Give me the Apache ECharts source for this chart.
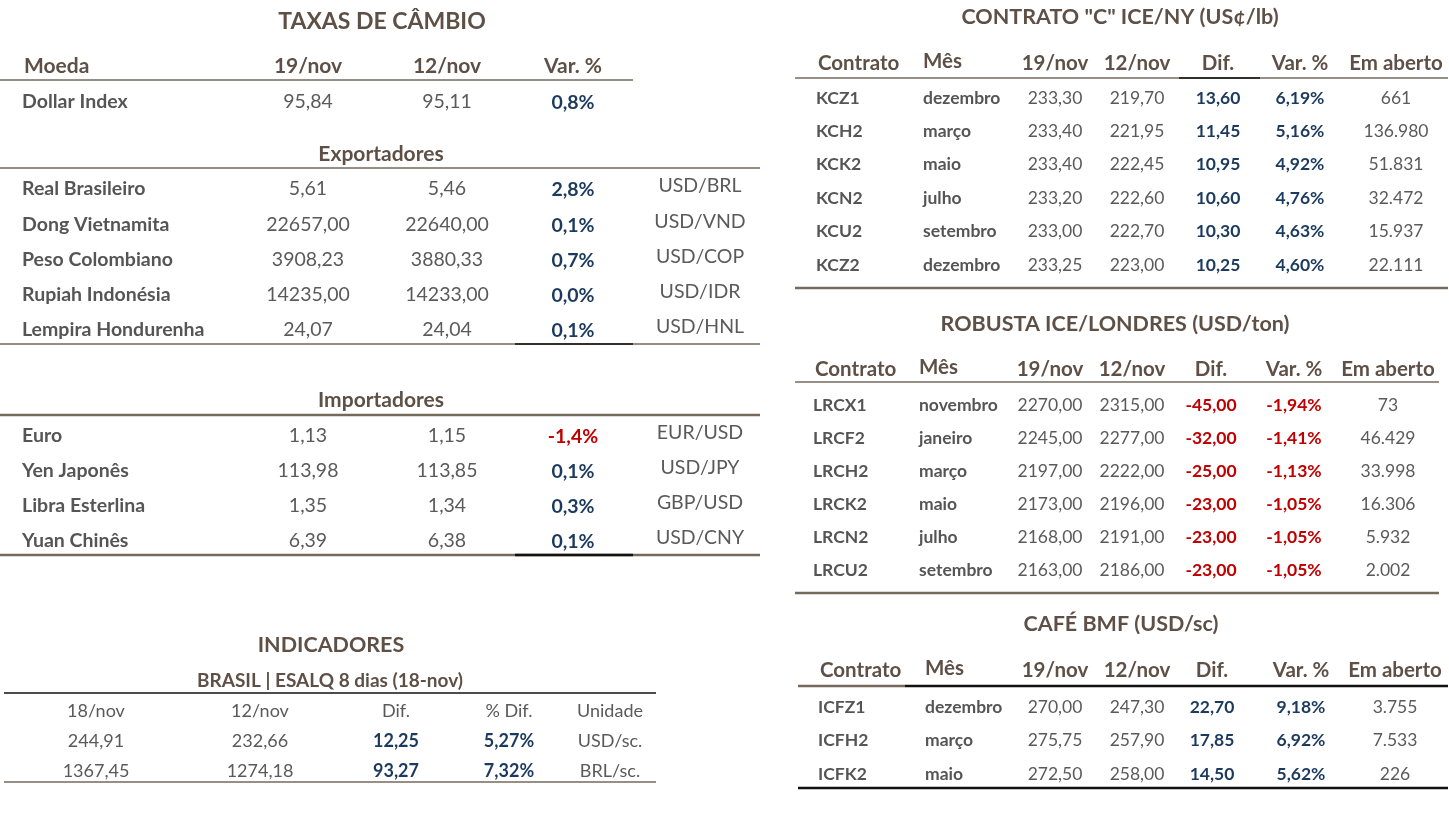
<!DOCTYPE html>
<html>
<head>
<meta charset="utf-8">
<script src="https://cdn.jsdelivr.net/npm/echarts@6/dist/echarts.min.js"></script>
<style>
  html, body { margin: 0; padding: 0; background: #fff; }
  #board { width: 1449px; height: 814px; }
</style>
</head>
<body>
<div id="board"></div>
<script>
// ---- data: taxas de cambio ----
const fxHeaders = ['Moeda', '19/nov', '12/nov', 'Var. %'];
const dollarName = ['Dollar Index'];
const dollar19 = ['95,84'];
const dollar12 = ['95,11'];
const dollarVar = ['0,8%'];

const expNames = ['Real Brasileiro', 'Dong Vietnamita', 'Peso Colombiano', 'Rupiah Indonésia', 'Lempira Hondurenha'];
const exp19 = ['5,61', '22657,00', '3908,23', '14235,00', '24,07'];
const exp12 = ['5,46', '22640,00', '3880,33', '14233,00', '24,04'];
const expVar = ['2,8%', '0,1%', '0,7%', '0,0%', '0,1%'];
const expPair = ['USD/BRL', 'USD/VND', 'USD/COP', 'USD/IDR', 'USD/HNL'];

const impNames = ['Euro', 'Yen Japonês', 'Libra Esterlina', 'Yuan Chinês'];
const imp19 = ['1,13', '113,98', '1,35', '6,39'];
const imp12 = ['1,15', '113,85', '1,34', '6,38'];
const impVar = ['-1,4%', '0,1%', '0,3%', '0,1%'];
const impPair = ['EUR/USD', 'USD/JPY', 'GBP/USD', 'USD/CNY'];

// ---- data: indicadores ----
const indHeaders = ['18/nov', '12/nov', 'Dif.', '% Dif.', 'Unidade'];
const ind18 = ['244,91', '1367,45'];
const ind12 = ['232,66', '1274,18'];
const indDif = ['12,25', '93,27'];
const indPct = ['5,27%', '7,32%'];
const indUnit = ['USD/sc.', 'BRL/sc.'];

// ---- data: futuros ----
const futHeaders = ['Contrato', 'Mês', '19/nov', '12/nov', 'Dif.', 'Var. %', 'Em aberto'];

const kcCodes = ['KCZ1', 'KCH2', 'KCK2', 'KCN2', 'KCU2', 'KCZ2'];
const kcMonths = ['dezembro', 'março', 'maio', 'julho', 'setembro', 'dezembro'];
const kc19 = ['233,30', '233,40', '233,40', '233,20', '233,00', '233,25'];
const kc12 = ['219,70', '221,95', '222,45', '222,60', '222,70', '223,00'];
const kcDif = ['13,60', '11,45', '10,95', '10,60', '10,30', '10,25'];
const kcVar = ['6,19%', '5,16%', '4,92%', '4,76%', '4,63%', '4,60%'];
const kcOpen = ['661', '136.980', '51.831', '32.472', '15.937', '22.111'];

const lrCodes = ['LRCX1', 'LRCF2', 'LRCH2', 'LRCK2', 'LRCN2', 'LRCU2'];
const lrMonths = ['novembro', 'janeiro', 'março', 'maio', 'julho', 'setembro'];
const lr19 = ['2270,00', '2245,00', '2197,00', '2173,00', '2168,00', '2163,00'];
const lr12 = ['2315,00', '2277,00', '2222,00', '2196,00', '2191,00', '2186,00'];
const lrDif = ['-45,00', '-32,00', '-25,00', '-23,00', '-23,00', '-23,00'];
const lrVar = ['-1,94%', '-1,41%', '-1,13%', '-1,05%', '-1,05%', '-1,05%'];
const lrOpen = ['73', '46.429', '33.998', '16.306', '5.932', '2.002'];

const icCodes = ['ICFZ1', 'ICFH2', 'ICFK2'];
const icMonths = ['dezembro', 'março', 'maio'];
const ic19 = ['270,00', '275,75', '272,50'];
const ic12 = ['247,30', '257,90', '258,00'];
const icDif = ['22,70', '17,85', '14,50'];
const icVar = ['9,18%', '6,92%', '5,62%'];
const icOpen = ['3.755', '7.533', '226'];

// ---- styles ----
const FONT = 'Lato, "Open Sans", sans-serif';
const col = {
  title: '#5e5046', head: '#5e5046', label: '#555555', val: '#5a5a5a',
  navy: '#1b3a5e', red: '#c00000', line: '#75685c', black: '#111111'
};
const els = [];

function txt(x, y, s, o) {
  o = o || {};
  els.push({
    type: 'text', x: x, y: y, silent: true,
    style: {
      text: s,
      fill: o.fill || col.val,
      font: (o.weight || 'normal') + ' ' + (o.size || 17) + 'px ' + FONT,
      textAlign: o.align || 'center', align: o.align || 'center',
      textVerticalAlign: 'middle', verticalAlign: 'middle'
    }
  });
}
function hline(x1, x2, y, stroke, w) {
  els.push({
    type: 'line', silent: true,
    shape: { x1: x1, y1: y, x2: x2, y2: y },
    style: { stroke: stroke || col.line, lineWidth: w || 1.5 }
  });
}
const signColor = v => (v.charAt(0) === '-' ? col.red : col.navy);

// ---- TAXAS DE CAMBIO ----
const fxX = { label: 22, c19: 308, c12: 447, v: 573, pair: 700 };
const FXS = 19.5, FXH = 21;
txt(382, 22, 'TAXAS DE CÂMBIO', { size: 23, weight: 'bold', fill: col.title });
txt(24, 66, fxHeaders[0], { size: FXH, weight: 'bold', fill: col.head, align: 'left' });
txt(fxX.c19, 66, fxHeaders[1], { size: FXH, weight: 'bold', fill: col.head });
txt(fxX.c12, 66, fxHeaders[2], { size: FXH, weight: 'bold', fill: col.head });
txt(fxX.v, 66, fxHeaders[3], { size: FXH, weight: 'bold', fill: col.head });
hline(0, 633, 80);

function fxRows(names, v19, v12, vv, pair, y0, step) {
  names.forEach((n, i) => {
    const y = y0 + i * step;
    txt(fxX.label, y, n, { size: FXS, weight: 'bold', fill: col.label, align: 'left' });
    txt(fxX.c19, y, v19[i], { size: FXS });
    txt(fxX.c12, y, v12[i], { size: FXS });
    txt(fxX.v, y + 1, vv[i], { size: FXS, weight: 'bold', fill: signColor(vv[i]) });
    if (pair) txt(fxX.pair, y - 3, pair[i], { size: FXS });
  });
}
fxRows(dollarName, dollar19, dollar12, dollarVar, null, 102, 0);

txt(381, 154, 'Exportadores', { size: FXH, weight: 'bold', fill: col.head });
hline(0, 760, 168);
fxRows(expNames, exp19, exp12, expVar, expPair, 189, 35.3);
hline(0, 760, 344);
hline(515, 633, 344, col.black, 1.5);

txt(381, 400, 'Importadores', { size: FXH, weight: 'bold', fill: col.head });
hline(0, 760, 415, col.line, 2.5);
fxRows(impNames, imp19, imp12, impVar, impPair, 436, 35);
hline(0, 760, 555, col.line, 2.5);
hline(515, 633, 555, col.black, 2.5);

// ---- INDICADORES ----
const indX = [96, 260, 396, 509, 610];
txt(331, 645, 'INDICADORES', { size: 21.5, weight: 'bold', fill: col.title });
txt(330, 681, 'BRASIL | ESALQ 8 dias (18-nov)', { size: 19, weight: 'bold', fill: col.head });
hline(4, 656, 693, col.black, 1.5);
indHeaders.forEach((h, i) => txt(indX[i], 711, h, { size: 18 }));
ind18.forEach((v, r) => {
  const y = 741 + r * 30;
  txt(indX[0], y, ind18[r], { size: 18 });
  txt(indX[1], y, ind12[r], { size: 18 });
  txt(indX[2], y, indDif[r], { size: 18, weight: 'bold', fill: signColor(indDif[r]) });
  txt(indX[3], y, indPct[r], { size: 18, weight: 'bold', fill: signColor(indPct[r]) });
  txt(indX[4], y, indUnit[r], { size: 18 });
});
hline(4, 656, 782);

// ---- futuros ----
function futTable(t) {
  const x = t.x, HS = 20.5, BS = 17.5;
  txt(t.titleX, t.titleY, t.title, { size: 21.5, weight: 'bold', fill: col.title });
  const hy = t.headY;
  txt(x.code, hy, futHeaders[0], { size: HS, weight: 'bold', fill: col.head, align: 'left' });
  txt(x.month, hy - 2, futHeaders[1], { size: HS, weight: 'bold', fill: col.head, align: 'left' });
  txt(x.c19, hy, futHeaders[2], { size: HS, weight: 'bold', fill: col.head });
  txt(x.c12, hy, futHeaders[3], { size: HS, weight: 'bold', fill: col.head });
  txt(x.dif, hy, futHeaders[4], { size: HS, weight: 'bold', fill: col.head });
  txt(x.v, hy, futHeaders[5], { size: HS, weight: 'bold', fill: col.head });
  txt(x.open, hy, futHeaders[6], { size: HS, weight: 'bold', fill: col.head });
  t.headLines.forEach(l => hline(l[0], l[1], t.lineY, l[2], l[3]));
  t.codes.forEach((c, i) => {
    const y = t.rowY + i * t.step;
    txt(x.code - 2, y, c, { size: BS, weight: 'bold', fill: col.label, align: 'left' });
    txt(x.month, y, t.months[i], { size: BS, weight: 'bold', fill: col.label, align: 'left' });
    txt(x.c19, y, t.v19[i], { size: BS });
    txt(x.c12, y, t.v12[i], { size: BS });
    txt(x.dif, y, t.dif[i], { size: BS, weight: 'bold', fill: signColor(t.dif[i]) });
    txt(x.v, y, t.varp[i], { size: BS, weight: 'bold', fill: signColor(t.varp[i]) });
    txt(x.open, y, t.open[i], { size: BS });
  });
  hline(t.left, t.right, t.bottomY, t.bottomColor, 2.5);
}

futTable({
  title: 'CONTRATO "C" ICE/NY (US¢/lb)', titleX: 1120, titleY: 17, headY: 63,
  x: { code: 818, month: 923, c19: 1055, c12: 1137, dif: 1218, v: 1300, open: 1396 },
  lineY: 78, headLines: [[795, 1448, col.line, 1.5], [1179, 1260, col.black, 1.5]],
  rowY: 98, step: 33.4, left: 795, right: 1448, bottomY: 288, bottomColor: col.line,
  codes: kcCodes, months: kcMonths, v19: kc19, v12: kc12, dif: kcDif, varp: kcVar, open: kcOpen
});
futTable({
  title: 'ROBUSTA ICE/LONDRES (USD/ton)', titleX: 1115, titleY: 324, headY: 369,
  x: { code: 815, month: 919, c19: 1050, c12: 1132, dif: 1211, v: 1294, open: 1388 },
  lineY: 382, headLines: [[795, 1439, col.line, 1.5]],
  rowY: 405, step: 33, left: 795, right: 1439, bottomY: 593, bottomColor: col.line,
  codes: lrCodes, months: lrMonths, v19: lr19, v12: lr12, dif: lrDif, varp: lrVar, open: lrOpen
});
futTable({
  title: 'CAFÉ BMF (USD/sc)', titleX: 1121, titleY: 624, headY: 670,
  x: { code: 820, month: 925, c19: 1055, c12: 1137, dif: 1212, v: 1301, open: 1395 },
  lineY: 686, headLines: [[798, 905, col.line, 2.5], [905, 1448, col.black, 2.5]],
  rowY: 707, step: 33.5, left: 798, right: 1448, bottomY: 788, bottomColor: col.black,
  codes: icCodes, months: icMonths, v19: ic19, v12: ic12, dif: icDif, varp: icVar, open: icOpen
});

const chart = echarts.init(document.getElementById('board'), null, { renderer: 'canvas' });
chart.setOption({
  backgroundColor: '#ffffff',
  animation: false,
  graphic: { elements: els }
});
</script>
</body>
</html>
